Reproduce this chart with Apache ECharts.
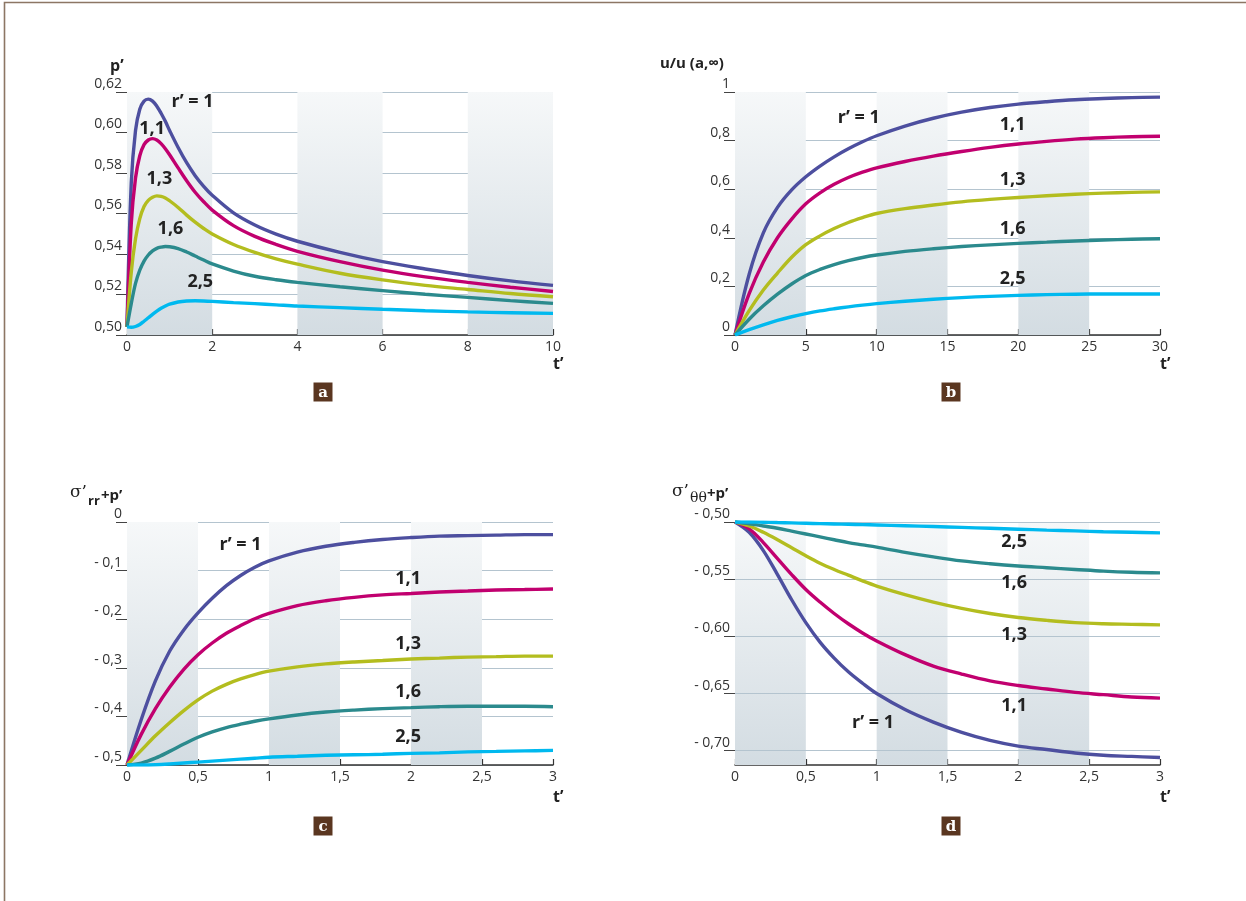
<!DOCTYPE html>
<html><head><meta charset="utf-8">
<script src="https://cdn.jsdelivr.net/npm/echarts@6/dist/echarts.min.js"></script>
<style>html,body{margin:0;padding:0;background:#fff}#c{width:1246px;height:901px}</style>
</head><body><div id="c"></div>
<script>
// ---------- DATA ----------
const seriesNames = ["r’ = 1", "1,1", "1,3", "1,6", "2,5"];
const seriesColors = ["#4d4f9f", "#c1006f", "#b3bd1f", "#2b8a8d", "#00b9ef"];

// Panel a: p' vs t'
const tA = [0,0.1,0.2,0.3,0.4,0.5,0.6,0.7,0.8,0.9,1.0,1.2,1.4,1.6,1.8,2.0,2.5,3.0,3.5,4,5,6,7,8,9,10];
const a_r10 = [0.504,0.575,0.601,0.6115,0.6155,0.6165,0.6155,0.613,0.6095,0.6055,0.601,0.5926,0.5851,0.5787,0.5734,0.569,0.5603,0.5543,0.5498,0.5463,0.5408,0.5362,0.5326,0.5294,0.5267,0.5245];
const a_r11 = [0.504,0.555,0.5775,0.5885,0.594,0.5963,0.597,0.5963,0.5945,0.592,0.589,0.5825,0.5762,0.5705,0.5658,0.5617,0.554,0.5487,0.5447,0.5413,0.5362,0.532,0.5287,0.526,0.5236,0.5215];
const a_r13 = [0.504,0.531,0.5475,0.5575,0.5635,0.5665,0.568,0.5687,0.5685,0.5677,0.5663,0.563,0.5592,0.5557,0.5526,0.5499,0.5447,0.5408,0.5376,0.535,0.5305,0.5272,0.5245,0.5225,0.5205,0.5189];
const a_r16 = [0.504,0.5155,0.5255,0.532,0.5365,0.5395,0.5415,0.5428,0.5434,0.5437,0.5436,0.5427,0.541,0.539,0.537,0.5351,0.5316,0.529,0.5273,0.526,0.5238,0.5219,0.5201,0.5186,0.517,0.5156];
const a_r25 = [0.504,0.5038,0.5042,0.5052,0.5068,0.5085,0.5102,0.5118,0.5132,0.5143,0.5152,0.5163,0.5168,0.5169,0.5168,0.5166,0.516,0.5155,0.5149,0.5143,0.5135,0.5127,0.512,0.5114,0.511,0.5107];

// Panel b: u/u(a,∞) vs t'
const tB = [0,1,2,3,4,5,6,7,8,9,10,12,14,16,18,20,22,24,26,28,30];
const b_r10 = [0,0.25,0.42,0.525,0.597,0.651,0.695,0.733,0.766,0.795,0.82,0.86,0.892,0.917,0.936,0.95,0.96,0.968,0.973,0.977,0.979];
const b_r11 = [0,0.17,0.30,0.40,0.477,0.54,0.585,0.62,0.648,0.67,0.688,0.714,0.736,0.755,0.772,0.786,0.797,0.806,0.812,0.816,0.818];
const b_r13 = [0,0.10,0.185,0.255,0.32,0.372,0.408,0.438,0.463,0.483,0.50,0.52,0.535,0.548,0.558,0.566,0.573,0.579,0.584,0.587,0.589];
const b_r16 = [0,0.065,0.12,0.168,0.21,0.245,0.27,0.29,0.306,0.319,0.329,0.344,0.355,0.364,0.371,0.377,0.382,0.387,0.391,0.394,0.396];
const b_r25 = [0,0.022,0.042,0.06,0.075,0.088,0.099,0.108,0.116,0.123,0.129,0.139,0.147,0.154,0.159,0.163,0.166,0.168,0.169,0.169,0.169];

// Panel c: σ'rr+p' vs t'
const tC = [0,0.1,0.2,0.3,0.4,0.5,0.6,0.7,0.8,0.9,1.0,1.2,1.4,1.6,1.8,2.0,2.2,2.4,2.6,2.8,3.0];
const c_r10 = [-0.5,-0.407,-0.327,-0.266,-0.222,-0.187,-0.157,-0.131,-0.110,-0.093,-0.080,-0.062,-0.050,-0.042,-0.036,-0.032,-0.029,-0.028,-0.027,-0.026,-0.026];
const c_r11 = [-0.5,-0.437,-0.384,-0.340,-0.303,-0.273,-0.249,-0.229,-0.213,-0.199,-0.188,-0.172,-0.162,-0.155,-0.150,-0.147,-0.144,-0.142,-0.140,-0.139,-0.138];
const c_r13 = [-0.5,-0.47,-0.44,-0.413,-0.388,-0.366,-0.348,-0.334,-0.323,-0.314,-0.307,-0.298,-0.292,-0.288,-0.285,-0.282,-0.280,-0.278,-0.277,-0.276,-0.276];
const c_r16 = [-0.5,-0.496,-0.486,-0.472,-0.457,-0.443,-0.432,-0.423,-0.416,-0.41,-0.405,-0.397,-0.391,-0.387,-0.384,-0.382,-0.380,-0.379,-0.379,-0.379,-0.380];
const c_r25 = [-0.5,-0.5,-0.4995,-0.498,-0.496,-0.494,-0.492,-0.49,-0.488,-0.486,-0.484,-0.482,-0.480,-0.479,-0.478,-0.476,-0.475,-0.473,-0.472,-0.471,-0.470];

// Panel d: σ'θθ+p' vs t'
const tD = [0,0.1,0.2,0.3,0.4,0.5,0.6,0.7,0.8,0.9,1.0,1.2,1.4,1.6,1.8,2.0,2.2,2.4,2.6,2.8,3.0];
const d_r10 = [-0.5,-0.509,-0.525,-0.546,-0.568,-0.588,-0.605,-0.619,-0.631,-0.641,-0.650,-0.664,-0.675,-0.684,-0.691,-0.696,-0.699,-0.702,-0.704,-0.705,-0.706];
const d_r11 = [-0.5,-0.506,-0.518,-0.532,-0.546,-0.559,-0.570,-0.580,-0.589,-0.597,-0.604,-0.616,-0.626,-0.633,-0.639,-0.643,-0.646,-0.649,-0.651,-0.653,-0.654];
const d_r13 = [-0.5,-0.5035,-0.509,-0.5155,-0.5225,-0.5295,-0.536,-0.5415,-0.5465,-0.5515,-0.556,-0.5635,-0.570,-0.5755,-0.580,-0.5835,-0.586,-0.588,-0.589,-0.5895,-0.590];
const d_r16 = [-0.5,-0.5015,-0.5035,-0.5055,-0.508,-0.5105,-0.513,-0.5155,-0.518,-0.520,-0.522,-0.5265,-0.5305,-0.534,-0.5365,-0.5385,-0.540,-0.5415,-0.543,-0.544,-0.5445];
const d_r25 = [-0.5,-0.5,-0.5002,-0.5005,-0.5008,-0.5011,-0.5014,-0.5017,-0.502,-0.5023,-0.5026,-0.5033,-0.504,-0.5047,-0.5055,-0.5063,-0.5071,-0.5078,-0.5085,-0.509,-0.5095];

// Curve label anchors (data coords)
const labA = [[1.54,0.615],[0.59,0.602],[0.76,0.577],[1.02,0.5526],[1.72,0.526]];
const labB = [[8.74,0.893],[19.6,0.863],[19.6,0.637],[19.6,0.438],[19.6,0.23]];
const labC = [[0.80,-0.048],[1.98,-0.118],[1.98,-0.25],[1.98,-0.349],[1.98,-0.443]];
const labD = [[0.975,-0.676],[1.97,-0.661],[1.97,-0.599],[1.97,-0.553],[1.97,-0.5175]];

// Shaded vertical bands
const bandsA = [[0,2],[4,6],[8,10]];
const bandsB = [[0,5],[10,15],[20,25]];
const bandsC = [[0,0.5],[1,1.5],[2,2.5]];
const bandsD = [[0,0.5],[1,1.5],[2,2.5]];

// Panel d tick values
const ticksD = [-0.70,-0.65,-0.60,-0.55,-0.50];

// ---------- BUILD ----------
const FONT = "'Open Sans', 'Noto Sans', sans-serif";
const GRID_COLOR = "#b4c4cf";
const comma = v => String(v).replace('.', ',');
const grids = [
  {left:127, top:92, width:426, height:243},
  {left:735, top:92, width:425, height:243},
  {left:127, top:522, width:426, height:243},
  {left:735, top:522, width:425, height:243}
];
const bandGrad = {type:'linear',x:0,y:0,x2:0,y2:1,colorStops:[{offset:0,color:'#f6f8f9'},{offset:1,color:'#d3dce2'}]};

function xAx(i, max, interval){
  return {gridIndex:i, type:'value', min:0, max:max, interval:interval,
    axisLine:{show:true, onZero:false, lineStyle:{color:'#333', width:1.5}},
    axisTick:{show:true, inside:true, length:6, lineStyle:{color:'#333', width:1.2}},
    axisLabel:{margin:5, fontSize:14, color:'#333', fontFamily:FONT, formatter:v=>comma(v)},
    splitLine:{show:false}};
}
function yAx(i, min, max, interval, fmt, custom){
  const o = {gridIndex:i, type:'value', min:min, max:max, offset:4,
    axisLine:{show:false},
    axisTick:{show:true, length:11, lineStyle:{color:'#444', width:1}},
    axisLabel:{margin:1, fontSize:14, color:'#333', fontFamily:FONT, verticalAlign:'bottom', padding:[0,0,1,0], formatter:fmt},
    splitLine:{show:true, lineStyle:{color:GRID_COLOR, width:1.2}}};
  if (interval) o.interval = interval;
  if (custom){
    o.axisTick.customValues = custom;
    o.axisLabel.customValues = custom;
    o.splitLine.show = false;
  }
  return o;
}

const panels = [
  {t:tA, ys:[a_r10,a_r11,a_r13,a_r16,a_r25], labs:labA, bands:bandsA},
  {t:tB, ys:[b_r10,b_r11,b_r13,b_r16,b_r25], labs:labB, bands:bandsB},
  {t:tC, ys:[c_r10,c_r11,c_r13,c_r16,c_r25], labs:labC, bands:bandsC},
  {t:tD, ys:[d_r10,d_r11,d_r13,d_r16,d_r25], labs:labD, bands:bandsD}
];

const series = [];
panels.forEach((p, gi) => {
  p.ys.forEach((vals, si) => {
    const s = {
      type:'line', name:seriesNames[si], xAxisIndex:gi, yAxisIndex:gi,
      data:p.t.map((t,k)=>[t, vals[k]]),
      smooth:0.35, showSymbol:false, symbol:'none',
      lineStyle:{color:seriesColors[si], width:3.4}, itemStyle:{color:seriesColors[si]},
      z:3+si, silent:true,
      markPoint:{symbol:'circle', symbolSize:1, silent:true, itemStyle:{color:'rgba(0,0,0,0)'},
        label:{show:true, position:'inside', formatter:seriesNames[si], fontSize:18, fontWeight:'bold', color:'#222', fontFamily:FONT},
        data:[{coord:p.labs[si]}]}
    };
    if (si === 0){
      s.markArea = {silent:true, itemStyle:{color:bandGrad}, z:1,
        data:p.bands.map(b=>[{xAxis:b[0]},{xAxis:b[1]}])};
      if (gi === 3){
        s.markLine = {silent:true, symbol:'none', label:{show:false}, z:2,
          lineStyle:{color:GRID_COLOR, width:1.2, type:'solid'},
          data:ticksD.map(v=>({yAxis:v}))};
      }
    }
    series.push(s);
  });
});

const fmtA = v => comma(v.toFixed(2));
const fmtB = v => comma(String(+v.toFixed(1)));
const fmtC = v => v === 0 ? '0' : '- ' + comma(Math.abs(v).toFixed(1));
const fmtD = v => '- ' + comma(Math.abs(v).toFixed(2));

function txt(x,y,text,style){
  return {type:'text', x:x, y:y, silent:true, style:Object.assign({text:text, fill:'#222', font:'bold 15px '+FONT, textVerticalAlign:'middle'}, style||{})};
}
function box(cx,cy,letter){
  return {type:'group', silent:true, children:[
    {type:'rect', shape:{x:cx-9.5, y:cy-9.5, width:19, height:19}, style:{fill:'#5a3620'}},
    {type:'text', x:cx, y:cy+1, style:{text:letter, fill:'#fff', font:'bold 15px "DejaVu Serif", "Liberation Serif", serif', textAlign:'center', textVerticalAlign:'middle'}}
  ]};
}

const option = {
  backgroundColor:'#fff',
  animation:false,
  grid:grids,
  xAxis:[xAx(0,10,2), xAx(1,30,5), xAx(2,3,0.5), xAx(3,3,0.5)],
  yAxis:[yAx(0,0.50,0.62,0.02,fmtA), yAx(1,0,1,0.2,fmtB), yAx(2,-0.5,0,0.1,fmtC), yAx(3,-0.7125,-0.5,null,fmtD,ticksD)],
  series:series,
  graphic:[
    {type:'polyline', silent:true, shape:{points:[[4.5,901],[4.5,2.5],[1246,2.5]]}, style:{stroke:'#8c7664', lineWidth:1.6, fill:null}},
    txt(110,66,'p’',{font:'bold 16px '+FONT}),
    txt(660,64,'u/u (a,∞)'),
    txt(70,493,'σ’',{font:'17px "DejaVu Serif", "Liberation Serif", serif'}),
    txt(88,501,'rr',{font:'bold 13px '+FONT}),
    txt(101,496,'+p’'),
    txt(672,492,'σ’',{font:'17px "DejaVu Serif", "Liberation Serif", serif'}),
    txt(690,498,'θθ',{font:'14px "DejaVu Serif", "Liberation Serif", serif'}),
    txt(707,494,'+p’'),
    txt(553,364,'t’',{font:'bold 16px '+FONT}),
    txt(1160,364,'t’',{font:'bold 16px '+FONT}),
    txt(553,797,'t’',{font:'bold 16px '+FONT}),
    txt(1160,797,'t’',{font:'bold 16px '+FONT}),
    box(323,392,'a'), box(951,392,'b'), box(323,826,'c'), box(951,826,'d')
  ]
};
const chart = echarts.init(document.getElementById('c'), null, {renderer:'canvas'});
chart.setOption(option);
</script></body></html>
